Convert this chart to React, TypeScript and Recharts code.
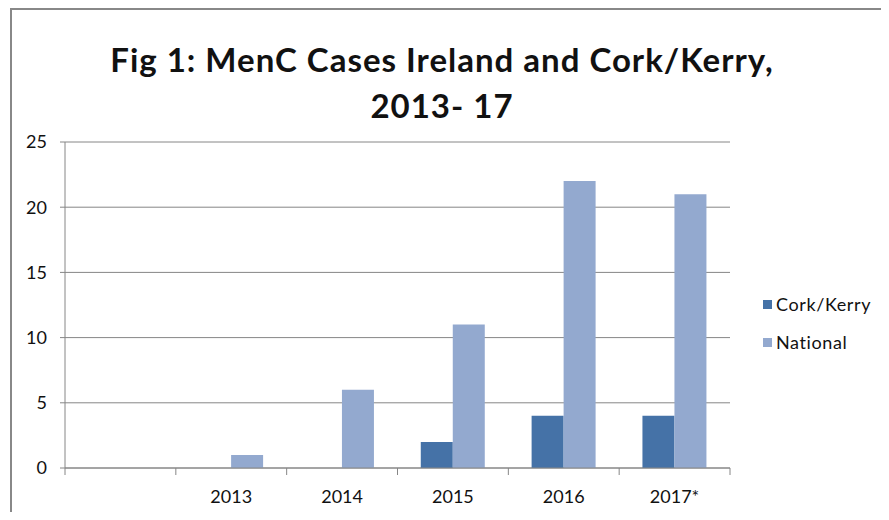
import { Bar, BarChart, CartesianGrid, Legend, XAxis, YAxis } from "recharts";

const years = ["", "2013", "2014", "2015", "2016", "2017*"];
const corkKerry = [null, 0, 0, 2, 4, 4];
const national = [null, 1, 6, 11, 22, 21];
const yTicks = [0, 5, 10, 15, 20, 25];

const data = years.map((year, i) => ({
  year,
  cork: corkKerry[i],
  national: national[i],
}));

const W = 889;
const H = 520;
const PLOT_LEFT = 65;
const PLOT_RIGHT = 730;
const PLOT_TOP = 142;
const XAXIS_H = 52;
const AXIS_Y = H - XAXIS_H;
const BAND = (PLOT_RIGHT - PLOT_LEFT) / years.length;
const AXIS_COLOR = "#868686";
const FONT = "Lato, 'Open Sans', sans-serif";

function YearTick(props: any) {
  const { x, payload, index } = props;
  const left = x - BAND / 2;
  const right = x + BAND / 2;
  return (
    <g>
      <line x1={left} x2={left} y1={AXIS_Y} y2={AXIS_Y + 7} stroke={AXIS_COLOR} />
      {index === years.length - 1 && (
        <line x1={right} x2={right} y1={AXIS_Y} y2={AXIS_Y + 7} stroke={AXIS_COLOR} />
      )}
      <text
        x={x}
        y={AXIS_Y + 35}
        textAnchor="middle"
        fontSize={18}
        fontFamily={FONT}
        fill="#111"
      >
        {payload.value}
      </text>
    </g>
  );
}

function LegendBox(props: any) {
  const { payload } = props;
  return (
    <div style={{ fontFamily: FONT, fontSize: 18, letterSpacing: 0.6, color: "#111" }}>
      {payload.map((item: any) => (
        <div
          key={item.value}
          style={{ display: "flex", alignItems: "center", height: 38 }}
        >
          <span
            style={{
              display: "inline-block",
              width: 9,
              height: 9,
              background: item.color,
              marginRight: 4,
            }}
          />
          {item.value}
        </div>
      ))}
    </div>
  );
}

export default function App() {
  return (
    <div
      style={{
        position: "relative",
        width: W,
        height: H,
        margin: -8,
        overflow: "hidden",
        background: "#fff",
      }}
    >
      <div
        style={{
          position: "absolute",
          left: 10,
          top: 8,
          width: 1000,
          height: 1000,
          border: "2px solid #888",
        }}
      />
      <div
        style={{
          position: "absolute",
          left: 0,
          top: 36,
          width: 884,
          textAlign: "center",
          fontFamily: FONT,
          fontWeight: 700,
          fontSize: 33,
          letterSpacing: 1,
          lineHeight: "46px",
          color: "#111",
        }}
      >
        Fig 1: MenC Cases Ireland and Cork/Kerry,
        <br />
        2013- 17
      </div>
      <div style={{ position: "absolute", left: 0, top: 0 }}>
        <BarChart
          width={W}
          height={H}
          data={data}
          margin={{ top: PLOT_TOP, right: W - PLOT_RIGHT, bottom: 0, left: 0 }}
          barCategoryGap="21%"
          barGap={0}
        >
          <CartesianGrid vertical={false} stroke={AXIS_COLOR} />
          <XAxis
            dataKey="year"
            height={XAXIS_H}
            stroke={AXIS_COLOR}
            tickLine={false}
            tick={<YearTick />}
            interval={0}
          />
          <YAxis
            width={PLOT_LEFT}
            domain={[0, 25]}
            ticks={yTicks}
            stroke={AXIS_COLOR}
            tickSize={5}
            tickMargin={13}
            tick={{ fontSize: 18, fontFamily: FONT, fill: "#111" }}
          />
          <Legend
            layout="vertical"
            align="center"
            verticalAlign="middle"
            content={<LegendBox />}
            wrapperStyle={{ left: 763, top: 285, width: 130 }}
          />
          <Bar
            dataKey="cork"
            name="Cork/Kerry"
            fill="#4572A7"
            isAnimationActive={false}
          />
          <Bar
            dataKey="national"
            name="National"
            fill="#93A9CF"
            isAnimationActive={false}
          />
        </BarChart>
      </div>
    </div>
  );
}
